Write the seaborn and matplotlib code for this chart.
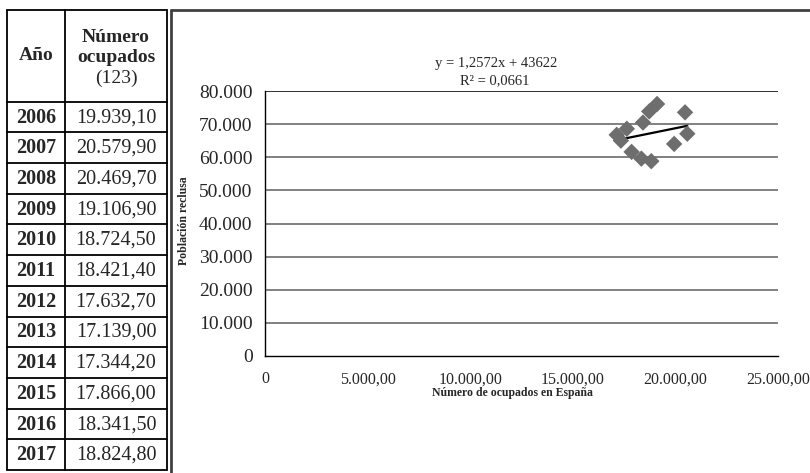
import matplotlib
matplotlib.use("Agg")
import matplotlib.pyplot as plt
from matplotlib.lines import Line2D
import seaborn as sns
import pandas as pd

years = [2006, 2007, 2008, 2009, 2010, 2011, 2012, 2013, 2014, 2015, 2016, 2017]
ocupados = [19939.10, 20579.90, 20469.70, 19106.90, 18724.50, 18421.40,
            17632.70, 17139.00, 17344.20, 17866.00, 18341.50, 18824.80]
poblacion = [64021, 67100, 73558, 76079, 73849, 70472,
             68597, 66765, 65017, 61614, 59589, 58814]
eq_text = "y = 1,2572x + 43622"
r2_text = "R² = 0,0661"
x_ticks = [0, 5000, 10000, 15000, 20000, 25000]
x_tick_labels = ["0", "5.000,00", "10.000,00", "15.000,00", "20.000,00", "25.000,00"]
y_ticks = [0, 10000, 20000, 30000, 40000, 50000, 60000, 70000, 80000]
y_tick_labels = ["0", "10.000", "20.000", "30.000", "40.000", "50.000", "60.000", "70.000", "80.000"]

sns.set_style("white")
plt.rcParams['font.family'] = ['Liberation Serif', 'DejaVu Serif']

W, H = 810, 473
fig = plt.figure(figsize=(W / 100, H / 100), dpi=100)

def fx(px):
    return px / W

def fy(py):
    return 1 - py / H

df = pd.DataFrame({"x": ocupados, "y": poblacion})

ax = fig.add_axes([fx(265), fy(356), fx(778) - fx(265), fy(91) - fy(356)])
for yt in y_ticks[1:]:
    ax.axhline(yt, color="#808080" if yt < 80000 else "#303030", lw=1.4, zorder=0)
sns.scatterplot(data=df, x="x", y="y", marker="D", s=70, color="#6e6e6e",
                edgecolor="none", ax=ax, zorder=3)
sns.regplot(data=df, x="x", y="y", scatter=False, ci=None, color="black",
            line_kws={"lw": 1.6}, ax=ax, truncate=True)
ax.set_xlim(0, 25000)
ax.set_ylim(0, 80000)
ax.set_xticks(x_ticks)
ax.set_xticklabels(x_tick_labels, fontsize=11.5)
ax.set_yticks(y_ticks)
ax.set_yticklabels(y_tick_labels, fontsize=14)
for s in ["top", "right"]:
    ax.spines[s].set_visible(False)
for s in ["left", "bottom"]:
    ax.spines[s].set_color("black")
    ax.spines[s].set_linewidth(1.0)
ax.tick_params(axis="both", direction="out", length=6, width=1, color="black")
ax.tick_params(axis="x", pad=5)
ax.tick_params(axis="y", pad=3)
ax.set_xlabel("Número de ocupados en España", fontsize=8.5, fontweight="bold")
ax.set_ylabel("Población reclusa", fontsize=8.5, fontweight="bold")
ax.xaxis.set_label_coords((512 - 265) / (778 - 265), -(387 - 356) / (356 - 91))
ax.yaxis.set_label_coords(-(265 - 190) / (778 - 265), 0.51)
ax.grid(False)

fig.text(fx(496), fy(63), eq_text, ha="center", va="center", fontsize=10.5)
fig.text(fx(495), fy(81), r2_text, ha="center", va="center", fontsize=10.5)

# chart panel border (left and top)
fig.add_artist(Line2D([fx(171), fx(171)], [fy(473), fy(10)], color="#404040", lw=2.0))
fig.add_artist(Line2D([fx(171), fx(810)], [fy(10), fy(10)], color="#404040", lw=2.0))

# table
tl, tr, tm = 7, 167, 65
tt, hb, rh = 10, 101.7, 30.7
tb = hb + rh * len(years)
lc = "black"
for xx in [tl, tm, tr]:
    fig.add_artist(Line2D([fx(xx), fx(xx)], [fy(tt), fy(tb)], color=lc, lw=1.3))
fig.add_artist(Line2D([fx(tl), fx(tr)], [fy(tt), fy(tt)], color=lc, lw=1.3))
for i in range(len(years) + 1):
    yy = hb + rh * i
    fig.add_artist(Line2D([fx(tl), fx(tr)], [fy(yy), fy(yy)], color=lc, lw=1.3))

fig.text(fx(36), fy(56), "Año", ha="center", va="center", fontsize=14, fontweight="bold")
fig.text(fx(116), fy(37), "Número", ha="center", va="center", fontsize=14, fontweight="bold")
fig.text(fx(116), fy(57), "ocupados", ha="center", va="center", fontsize=14, fontweight="bold")
fig.text(fx(116), fy(78), "(123)", ha="center", va="center", fontsize=14)

def fmt_es(v):
    s = f"{v:,.2f}"
    return s.replace(",", "X").replace(".", ",").replace("X", ".")

for i, (yr, oc) in enumerate(zip(years, ocupados)):
    cy = hb + rh * i + rh / 2 + 0.5
    fig.text(fx(36), fy(cy), str(yr), ha="center", va="center", fontsize=14.5, fontweight="bold")
    fig.text(fx(116), fy(cy), fmt_es(oc), ha="center", va="center", fontsize=14.5)

fig.savefig("out.png", dpi=100)
